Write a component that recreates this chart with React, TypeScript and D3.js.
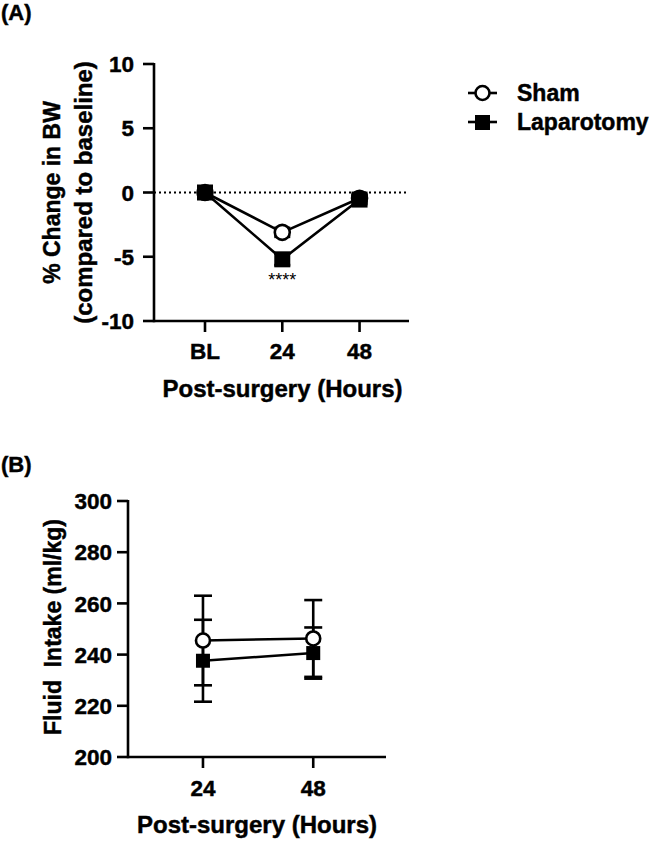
import React from "react";
import * as d3 from "d3";

const hoursA = ["BL", "24", "48"];
const shamBW = [0, -3.1, -0.45];
const lapBW = [0, -5.2, -0.55];
const shamBWErr = [0.3, 0.35, 0.3];
const lapBWErr = [0.35, 0.45, 0.35];
const yTicksA = [-10, -5, 0, 5, 10];

const hoursB = ["24", "48"];
const shamFluid = [245.5, 246.3];
const shamFluidErr = [17.5, 15];
const lapFluid = [237.6, 240.6];
const lapFluidErr = [16, 10];
const yTicksB = [200, 220, 240, 260, 280, 300];

const seriesNames = ["Sham", "Laparotomy"];

const FONT = "'Liberation Sans', Arial, Helvetica, sans-serif";
const SW = 2.6;

export default function App() {
  const xA = d3.scaleLinear().domain([-0.66, 2.64]).range([154, 409]);
  const yA = d3.scaleLinear().domain([-10, 10]).range([321, 64]);
  const xB = d3.scaleLinear().domain([-0.68, 1.66]).range([128, 386]);
  const yB = d3.scaleLinear().domain([200, 300]).range([757, 501]);

  const lineA = d3
    .line<number>()
    .x((_, i) => xA(i))
    .y((d) => yA(d));
  const lineB = d3
    .line<number>()
    .x((_, i) => xB(i))
    .y((d) => yB(d));

  const errBars = (
    vals: number[],
    errs: number[],
    x: (i: number) => number,
    y: (v: number) => number,
    key: string,
    cap: number
  ) =>
    vals.map((v, i) => (
      <g key={key + i}>
        <line x1={x(i)} x2={x(i)} y1={y(v - errs[i])} y2={y(v + errs[i])} stroke="#000" strokeWidth={SW} />
        <line x1={x(i) - cap} x2={x(i) + cap} y1={y(v + errs[i])} y2={y(v + errs[i])} stroke="#000" strokeWidth={SW} />
        <line x1={x(i) - cap} x2={x(i) + cap} y1={y(v - errs[i])} y2={y(v - errs[i])} stroke="#000" strokeWidth={SW} />
      </g>
    ));

  const textStyle = {
    fontFamily: FONT,
    fontWeight: 700 as const,
    fill: "#000",
    stroke: "#000",
    strokeWidth: 0.45,
  };

  return (
    <svg
      width={653}
      height={842}
      style={{ position: "absolute", left: 0, top: 0, background: "#fff" }}
    >
      <rect x={0} y={0} width={653} height={842} fill="#fff" />
      <text x={1} y={20} fontSize={22} {...textStyle}>(A)</text>
      <text x={1} y={472} fontSize={22} {...textStyle}>(B)</text>

      {/* ===== Panel A ===== */}
      <line
        x1={xA.range()[0]}
        x2={xA.range()[1]}
        y1={yA(0)}
        y2={yA(0)}
        stroke="#000"
        strokeWidth={2}
        strokeDasharray="2,3"
      />
      <line x1={xA.range()[0]} x2={xA.range()[0]} y1={yA(10) - 1} y2={yA(-10) + 1.3} stroke="#000" strokeWidth={SW} />
      <line x1={xA.range()[0]} x2={xA.range()[1]} y1={yA(-10)} y2={yA(-10)} stroke="#000" strokeWidth={SW} />
      {yTicksA.map((t) => (
        <g key={"ya" + t}>
          <line x1={xA.range()[0] - 11} x2={xA.range()[0]} y1={yA(t)} y2={yA(t)} stroke="#000" strokeWidth={SW} />
          <text x={xA.range()[0] - 20} y={yA(t)} dy="0.36em" textAnchor="end" fontSize={22.5} {...textStyle}>
            {t}
          </text>
        </g>
      ))}
      {hoursA.map((h, i) => (
        <g key={"xa" + h}>
          <line x1={xA(i)} x2={xA(i)} y1={yA(-10)} y2={yA(-10) + 11} stroke="#000" strokeWidth={SW} />
          <text x={xA(i)} y={359} textAnchor="middle" fontSize={22.5} {...textStyle}>
            {h}
          </text>
        </g>
      ))}
      <text x={(xA.range()[0] + xA.range()[1]) / 2 + 1} y={397} textAnchor="middle" fontSize={24} {...textStyle}>
        Post-surgery (Hours)
      </text>
      <text transform={`translate(52,${(yA(10) + yA(-10)) / 2}) rotate(-90)`} dy="0.36em" textAnchor="middle" fontSize={23} {...textStyle}>
        % Change in BW
      </text>
      <text transform={`translate(83,${(yA(10) + yA(-10)) / 2}) rotate(-90)`} dy="0.36em" textAnchor="middle" fontSize={24} {...textStyle}>
        (compared to baseline)
      </text>

      {errBars(shamBW, shamBWErr, xA, yA, "sea", 8)}
      {errBars(lapBW, lapBWErr, xA, yA, "lea", 8)}
      <path d={lineA(shamBW) || ""} fill="none" stroke="#000" strokeWidth={SW} />
      <path d={lineA(lapBW) || ""} fill="none" stroke="#000" strokeWidth={SW} />
      {shamBW.map((v, i) => (
        <circle key={"sa" + i} cx={xA(i)} cy={yA(v)} r={7.5} fill="#fff" stroke="#000" strokeWidth={SW} />
      ))}
      {lapBW.map((v, i) => (
        <rect key={"la" + i} x={xA(i) - 8} y={yA(v) - 8} width={16} height={16} fill="#000" />
      ))}
      <text x={xA(1)} y={286} textAnchor="middle" fontSize={18} fontFamily={FONT} fill="#000">
        ****
      </text>

      {/* Legend */}
      <g>
        <line x1={468} x2={497} y1={93} y2={93} stroke="#000" strokeWidth={SW} />
        <circle cx={482.5} cy={93} r={7} fill="#fff" stroke="#000" strokeWidth={SW} />
        <text x={517} y={101} fontSize={23} {...textStyle}>{seriesNames[0]}</text>
        <line x1={468} x2={497} y1={122} y2={122} stroke="#000" strokeWidth={SW} />
        <rect x={475} y={115} width={15} height={15} fill="#000" />
        <text x={517} y={130} fontSize={23} {...textStyle}>{seriesNames[1]}</text>
      </g>

      {/* ===== Panel B ===== */}
      <line x1={xB.range()[0]} x2={xB.range()[0]} y1={yB(300) - 1} y2={yB(200) + 1.3} stroke="#000" strokeWidth={SW} />
      <line x1={xB.range()[0]} x2={xB.range()[1]} y1={yB(200)} y2={yB(200)} stroke="#000" strokeWidth={SW} />
      {yTicksB.map((t) => (
        <g key={"yb" + t}>
          <line x1={xB.range()[0] - 11} x2={xB.range()[0]} y1={yB(t)} y2={yB(t)} stroke="#000" strokeWidth={SW} />
          <text x={xB.range()[0] - 16} y={yB(t)} dy="0.36em" textAnchor="end" fontSize={22.5} {...textStyle}>
            {t}
          </text>
        </g>
      ))}
      {hoursB.map((h, i) => (
        <g key={"xb" + h}>
          <line x1={xB(i)} x2={xB(i)} y1={yB(200)} y2={yB(200) + 11} stroke="#000" strokeWidth={SW} />
          <text x={xB(i)} y={796} textAnchor="middle" fontSize={22.5} {...textStyle}>
            {h}
          </text>
        </g>
      ))}
      <text x={(xB.range()[0] + xB.range()[1]) / 2} y={833} textAnchor="middle" fontSize={24} {...textStyle}>
        Post-surgery (Hours)
      </text>
      <text
        transform={`translate(53,${(yB(300) + yB(200)) / 2 - 2}) rotate(-90)`}
        dy="0.36em"
        textAnchor="middle"
        fontSize={23}
        style={{ whiteSpace: "pre" }}
        {...textStyle}
      >
        {"Fluid  Intake (ml/kg)"}
      </text>

      {errBars(shamFluid, shamFluidErr, xB, yB, "seb", 9)}
      {errBars(lapFluid, lapFluidErr, xB, yB, "leb", 9)}
      <path d={lineB(shamFluid) || ""} fill="none" stroke="#000" strokeWidth={SW} />
      <path d={lineB(lapFluid) || ""} fill="none" stroke="#000" strokeWidth={SW} />
      {shamFluid.map((v, i) => (
        <circle key={"sb" + i} cx={xB(i)} cy={yB(v)} r={7} fill="#fff" stroke="#000" strokeWidth={SW} />
      ))}
      {lapFluid.map((v, i) => (
        <rect key={"lb" + i} x={xB(i) - 7} y={yB(v) - 7} width={14} height={14} fill="#000" />
      ))}
    </svg>
  );
}
